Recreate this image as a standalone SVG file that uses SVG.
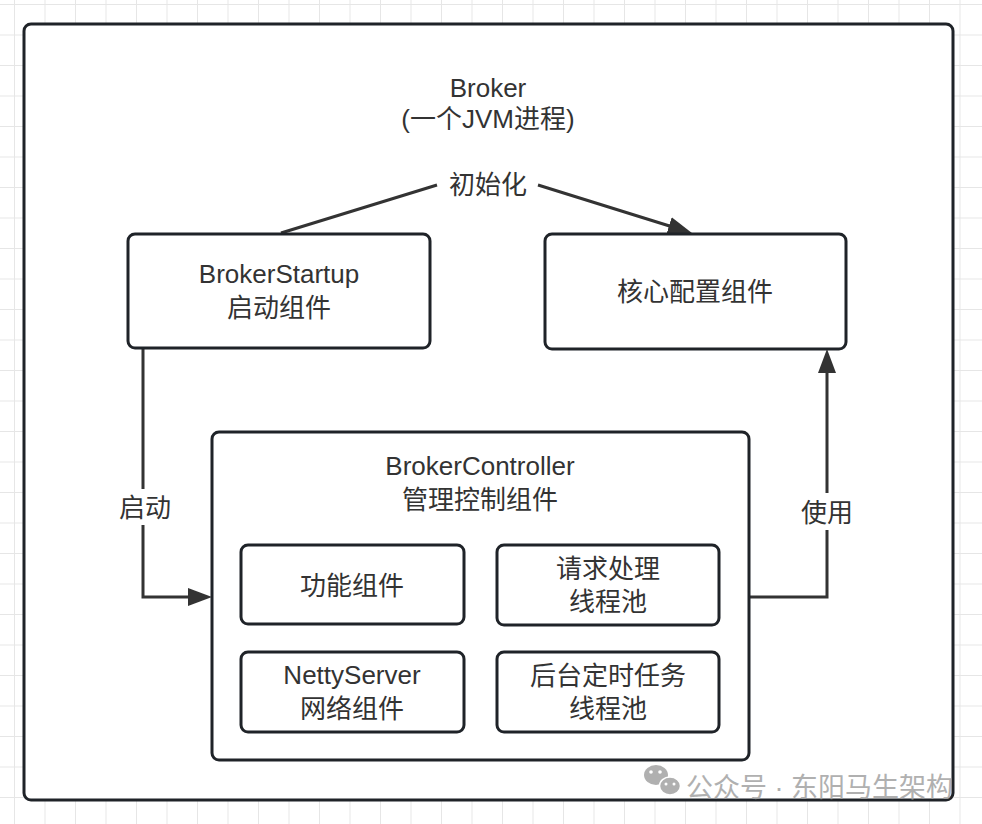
<svg xmlns="http://www.w3.org/2000/svg" width="982" height="824" viewBox="0 0 982 824">
<style>
.t{font-family:"Liberation Sans","Noto Sans CJK SC",sans-serif;font-size:26px;fill:#333;text-anchor:middle}
.box{fill:#fff;stroke:#1f2328;stroke-width:3}
.conn{fill:none;stroke:#333;stroke-width:3}
.wm{font-family:"Liberation Sans","Noto Sans CJK SC",sans-serif;font-size:27px;fill:#a3a3a3}
</style>
<defs>
<pattern id="grid" patternUnits="userSpaceOnUse" x="14" y="4" width="30.5" height="30.5">
<path d="M0 0V30.5M0 0H30.5" stroke="#e6e6e6" stroke-width="2" fill="none"/>
</pattern>
<marker id="arr" markerUnits="userSpaceOnUse" viewBox="0 0 24 18" refX="14" refY="9" markerWidth="24" markerHeight="18" orient="auto">
<path d="M0 0L24 9L0 18z" fill="#333"/>
</marker>
</defs>
<rect width="982" height="824" fill="#fff"/>
<rect width="982" height="824" fill="url(#grid)"/>
<g id="broker">
<rect class="box" x="24" y="24" width="929" height="776" rx="7"/>
<text class="t" x="488" y="97">Broker</text>
<text class="t" x="488" y="128">(一个JVM进程)</text>
</g>
<g id="connectors">
<path class="conn" d="M281 233L437 185M538 185L682.4 230" marker-end="url(#arr)"/>
<path class="conn" d="M143 349V597H202" marker-end="url(#arr)"/>
<path class="conn" d="M749 597H827V359" marker-end="url(#arr)"/>
<rect x="122" y="489" width="46" height="36" fill="#fff"/>
<text class="t" x="145" y="517">启动</text>
<rect x="804" y="493" width="46" height="37" fill="#fff"/>
<text class="t" x="827" y="522">使用</text>
<text class="t" x="488" y="194">初始化</text>
</g>
<g id="broker-startup">
<rect class="box" x="128" y="234" width="302" height="114" rx="7"/>
<text class="t" x="279" y="283">BrokerStartup</text>
<text class="t" x="279" y="317">启动组件</text>
</g>
<g id="core-config">
<rect class="box" x="545" y="234" width="301" height="115" rx="7"/>
<text class="t" x="695" y="301">核心配置组件</text>
</g>
<g id="broker-controller">
<rect class="box" x="212" y="432" width="537" height="328" rx="7"/>
<text class="t" x="480" y="475">BrokerController</text>
<text class="t" x="480" y="509">管理控制组件</text>
</g>
<g id="function-components">
<rect class="box" x="241" y="545" width="223" height="79" rx="7"/>
<text class="t" x="352" y="595">功能组件</text>
</g>
<g id="request-pool">
<rect class="box" x="497" y="545" width="222" height="80" rx="7"/>
<text class="t" x="608" y="578">请求处理</text>
<text class="t" x="608" y="611">线程池</text>
</g>
<g id="netty-server">
<rect class="box" x="241" y="652" width="223" height="80" rx="7"/>
<text class="t" x="352" y="684">NettyServer</text>
<text class="t" x="352" y="718">网络组件</text>
</g>
<g id="scheduled-pool">
<rect class="box" x="497" y="652" width="222" height="80" rx="7"/>
<text class="t" x="608" y="685">后台定时任务</text>
<text class="t" x="608" y="718">线程池</text>
</g>
<g id="watermark" opacity="0.85">
<ellipse cx="656" cy="775" rx="12" ry="10" fill="#a3a3a3"/>
<ellipse cx="670" cy="786" rx="10.5" ry="9" fill="#a3a3a3" stroke="#fff" stroke-width="1.5"/>
<circle cx="651" cy="772" r="1.8" fill="#fff"/>
<circle cx="660" cy="772" r="1.8" fill="#fff"/>
<circle cx="666" cy="784" r="1.5" fill="#fff"/>
<circle cx="674" cy="784" r="1.5" fill="#fff"/>
<text class="wm" x="686" y="797">公众号 · 东阳马生架构</text>
</g>
</svg>
